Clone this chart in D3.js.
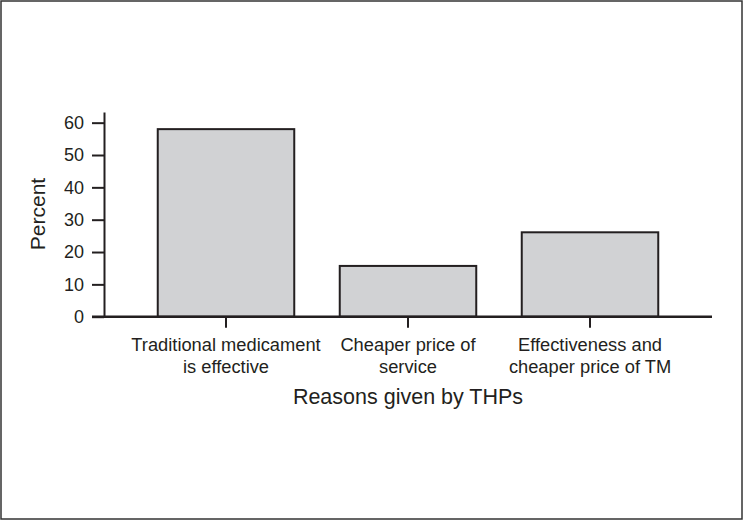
<!DOCTYPE html>
<html>
<head>
<meta charset="utf-8">
<script src="https://cdn.jsdelivr.net/npm/d3@7"></script>
<style>
  body { margin: 0; background: #fff; }
  text { font-family: "Liberation Sans", Arial, sans-serif; fill: #231f20; }
</style>
</head>
<body>
<div id="chart"></div>
<script>
// data
const categories = [
    ["Traditional medicament", "is effective"],
    ["Cheaper price of", "service"],
    ["Effectiveness and", "cheaper price of TM"]
];
const percents = [58, 15.7, 26.1];
const yTicks = [0, 10, 20, 30, 40, 50, 60];

const width = 743, height = 521;
const ink = "#231f20";

let svg = d3.select("#chart")
    .append("svg")
    .attr("width", width)
    .attr("height", height);

// outer frame
svg.append("rect")
    .attr("x", 1).attr("y", 1)
    .attr("width", width - 2).attr("height", height - 3)
    .attr("fill", "none")
    .attr("stroke", "#333")
    .attr("stroke-width", 1.5);

let x = d3.scaleBand()
    .domain(categories.map((d, i) => i))
    .range([135, 681])
    .paddingInner(0.25)
    .paddingOuter(0.125);

let y = d3.scaleLinear()
    .domain([0, 63.3])
    .range([316.7, 112]);

const yAxisX = 104;

// bars
svg.append("g")
    .selectAll("rect")
    .data(percents)
    .enter().append("rect")
    .attr("x", (d, i) => x(i))
    .attr("y", d => y(d))
    .attr("width", x.bandwidth())
    .attr("height", d => y(0) - y(d))
    .attr("fill", "#d1d2d4")
    .attr("stroke", ink)
    .attr("stroke-width", 2);

// y axis
let yAxis = svg.append("g")
    .attr("transform", `translate(${yAxisX},0)`)
    .call(d3.axisLeft(y).tickValues(yTicks).tickSize(12).tickSizeOuter(0).tickPadding(8));
yAxis.selectAll("path, line").attr("stroke", ink).attr("stroke-width", 2);
yAxis.selectAll("text").style("font-size", "18px").attr("fill", ink);

// x axis
let xAxis = svg.append("g")
    .attr("transform", `translate(0,${y(0)})`)
    .call(d3.axisBottom(x).tickSize(11).tickFormat(""));
xAxis.select(".domain").remove();
xAxis.selectAll("line").attr("stroke", ink).attr("stroke-width", 2);
xAxis.append("line")
    .attr("x1", yAxisX - 12).attr("x2", 712)
    .attr("stroke", ink).attr("stroke-width", 2.5);

// category labels (two lines each)
let labels = svg.append("g")
    .selectAll("text")
    .data(categories)
    .enter().append("text")
    .attr("text-anchor", "middle")
    .style("font-size", "18.3px");
labels.selectAll("tspan")
    .data((d, i) => d.map(s => ({ s, i })))
    .enter().append("tspan")
    .attr("x", d => x(d.i) + x.bandwidth() / 2)
    .attr("y", (d, j) => 351 + j * 22)
    .text(d => d.s);

// axis titles
svg.append("text")
    .attr("transform", "translate(45,214) rotate(-90)")
    .attr("text-anchor", "middle")
    .style("font-size", "21px")
    .text("Percent");

svg.append("text")
    .attr("x", 408)
    .attr("y", 404)
    .attr("text-anchor", "middle")
    .style("font-size", "21.5px")
    .text("Reasons given by THPs");
</script>
</body>
</html>
